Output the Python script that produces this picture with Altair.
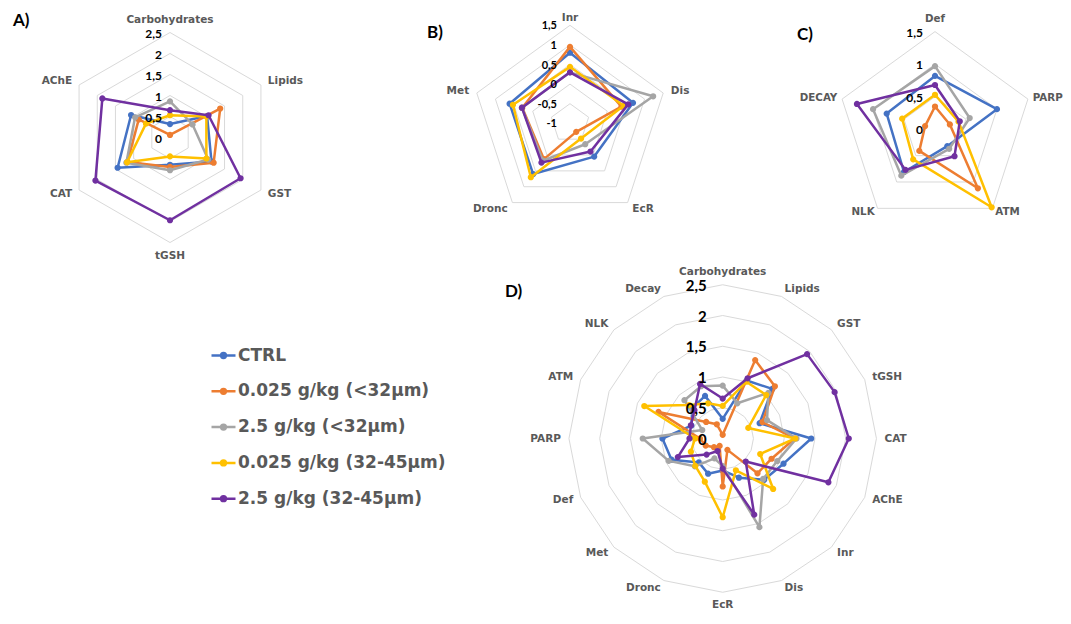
import altair as alt
import numpy as np
import pandas as pd

# ---------------- series ----------------
SERIES = ["CTRL", "0.025 g/kg (<32µm)", "2.5 g/kg (<32µm)",
          "0.025 g/kg (32-45µm)", "2.5 g/kg (32-45µm)"]
COLORS = ["#4472C4", "#ED7D31", "#A5A5A5", "#FFC000", "#7030A0"]

# ---------------- panel A ----------------
A_CATS = ["Carbohydrates", "Lipids", "GST", "tGSH", "CAT", "AChE"]
A_CTRL = [0.32, 1.02, 1.14, 0.65, 1.44, 1.07]
A_LOW_S = [0.06, 1.38, 1.20, 0.70, 1.17, 0.86]
A_HIGH_S = [0.86, 0.62, 1.05, 0.78, 1.20, 0.96]
A_LOW_L = [0.53, 1.00, 1.00, 0.45, 1.18, 0.66]
A_HIGH_L = [0.65, 1.06, 1.94, 1.97, 2.05, 1.86]
A_TICKS = [0, 0.5, 1, 1.5, 2, 2.5]
A_TICK_LABELS = ["0", "0,5", "1", "1,5", "2", "2,5"]
A_RINGS = [0.5, 1, 1.5, 2, 2.5]

# ---------------- panel B ----------------
B_CATS = ["Inr", "Dis", "EcR", "Dronc", "Met"]
B_CTRL = [0.80, 0.69, 0.05, 0.60, 0.62]
B_LOW_S = [0.95, 0.38, -0.73, 0.13, 0.28]
B_HIGH_S = [0.30, 1.23, -0.34, 0.18, 0.29]
B_LOW_L = [0.44, 0.44, -0.52, 0.70, 0.53]
B_HIGH_L = [0.30, 0.56, -0.11, 0.24, 0.29]
B_TICKS = [-1, -0.5, 0, 0.5, 1, 1.5]
B_TICK_LABELS = ["-1", "-0,5", "0", "0,5", "1", "1,5"]
B_RINGS = [-0.5, 0, 0.5, 1, 1.5]

# ---------------- panel C ----------------
C_CATS = ["Def", "PARP", "ATM", "NLK", "DECAY"]
C_CTRL = [0.82, 1.00, 0.32, 0.81, 0.78]
C_LOW_S = [0.35, 0.24, 1.12, 0.41, 0.16]
C_HIGH_S = [0.97, 0.56, 0.37, 0.88, 1.00]
C_LOW_L = [0.53, 0.38, 1.48, 0.57, 0.53]
C_HIGH_L = [0.68, 0.40, 0.51, 0.77, 1.26]
C_TICKS = [0, 0.5, 1, 1.5]
C_TICK_LABELS = ["0", "0,5", "1", "1,5"]
C_RINGS = [0.5, 1, 1.5]

# ---------------- panel D ----------------
D_CATS = ["Carbohydrates", "Lipids", "GST", "tGSH", "CAT", "AChE", "Inr", "Dis",
          "EcR", "Dronc", "Met", "Def", "PARP", "ATM", "NLK", "Decay"]
D_CTRL = [0.32, 1.02, 1.14, 0.65, 1.44, 1.07, 0.95, 0.69, 0.52, 0.62, 0.55, 0.90, 0.98, 0.55, 0.70, 0.75]
D_LOW_S = [0.06, 1.38, 1.20, 0.70, 1.17, 0.86, 0.80, 0.20, 0.78, 0.13, 0.20, 0.30, 0.37, 1.13, 0.38, 0.25]
D_HIGH_S = [0.86, 0.62, 1.05, 0.78, 1.20, 0.96, 0.93, 1.56, 0.45, 0.35, 0.64, 0.95, 1.30, 0.36, 0.88, 0.92]
D_LOW_L = [0.53, 1.00, 1.00, 0.45, 1.18, 0.66, 1.16, 0.56, 1.28, 0.76, 0.63, 0.56, 0.45, 1.38, 0.77, 0.62]
D_HIGH_L = [0.65, 1.06, 1.94, 1.97, 2.05, 1.86, 0.53, 1.34, 0.49, 0.22, 0.37, 0.79, 0.54, 0.56, 0.65, 0.96]
D_TICKS = [0, 0.5, 1, 1.5, 2, 2.5]
D_TICK_LABELS = ["0", "0,5", "1", "1,5", "2", "2,5"]
D_RINGS = [0.5, 1, 1.5, 2, 2.5]

PANEL_LETTERS = ["A)", "B)", "C)", "D)"]

# ---------------- layout (page pixels) ----------------
LAYOUT = {
    "A": dict(cx=170, cy=137.5, R=105, lo=0, hi=2.5, tick_fs=12, tick_dx=-8,
              gap=8, top_gap=8, cat_fs=10.5, lx=13, ly=21),
    "B": dict(cx=570, cy=123.3, R=98, lo=-1, hi=1.5, tick_fs=11, tick_dx=-13,
              gap=8, top_gap=2, cat_fs=10.5, lx=427, ly=33),
    "C": dict(cx=935, cy=129.3, R=97.7, lo=0, hi=1.5, tick_fs=12, tick_dx=-12,
              gap=5, top_gap=8, cat_fs=10.3, lx=797, ly=35),
    "D": dict(cx=722.7, cy=438.5, R=153.75, lo=0, hi=2.5, tick_fs=15, tick_dx=-16,
              gap=8, top_gap=8, cat_fs=10.5, lx=505, ly=292),
}

PANELS = {
    "A": (A_CATS, [A_CTRL, A_LOW_S, A_HIGH_S, A_LOW_L, A_HIGH_L], A_TICKS, A_TICK_LABELS, A_RINGS),
    "B": (B_CATS, [B_CTRL, B_LOW_S, B_HIGH_S, B_LOW_L, B_HIGH_L], B_TICKS, B_TICK_LABELS, B_RINGS),
    "C": (C_CATS, [C_CTRL, C_LOW_S, C_HIGH_S, C_LOW_L, C_HIGH_L], C_TICKS, C_TICK_LABELS, C_RINGS),
    "D": (D_CATS, [D_CTRL, D_LOW_S, D_HIGH_S, D_LOW_L, D_HIGH_L], D_TICKS, D_TICK_LABELS, D_RINGS),
}


def to_xy(p, v, k, n):
    L = LAYOUT[p]
    th = np.deg2rad(90 - 360.0 * k / n)
    r = (v - L["lo"]) / (L["hi"] - L["lo"]) * L["R"]
    return L["cx"] + r * np.cos(th), L["cy"] - r * np.sin(th)


series_rows, ring_rows, cat_rows, tick_rows, letter_rows = [], [], [], [], []
for pi, (p, (cats, vals, ticks, tick_labels, rings)) in enumerate(PANELS.items()):
    n = len(cats)
    L = LAYOUT[p]
    for s, arr in zip(SERIES, vals):
        for k in range(n + 1):
            x, y = to_xy(p, arr[k % n], k, n)
            series_rows.append(dict(panel=p, series=s, ord=k, X=x, Y=y, pt=k < n))
    for rv in rings:
        for k in range(n + 1):
            x, y = to_xy(p, rv, k, n)
            ring_rows.append(dict(panel=p, ring=f"{p}{rv}", ord=k, X=x, Y=y))
    for k, c in enumerate(cats):
        th = np.deg2rad(90 - 360.0 * k / n)
        if np.cos(th) > 0.2:
            anchor = "left"
        elif np.cos(th) < -0.2:
            anchor = "right"
        elif np.sin(th) > 0:
            anchor = "top"
        else:
            anchor = "bottom"
        rr = L["R"] + (L["top_gap"] if anchor == "top" else L["gap"])
        x, y = L["cx"] + rr * np.cos(th), L["cy"] - rr * np.sin(th)
        cat_rows.append(dict(panel=p, label=c, X=x, Y=y, anchor=anchor, fs=L["cat_fs"]))
    for tv, tl in zip(ticks, tick_labels):
        _, y = to_xy(p, tv, 0, n)
        tick_rows.append(dict(panel=p, label=tl, X=L["cx"] + L["tick_dx"], Y=y + 1, fs=L["tick_fs"]))
    letter_rows.append(dict(label=PANEL_LETTERS[pi], X=L["lx"], Y=L["ly"]))

series_df = pd.DataFrame(series_rows)
ring_df = pd.DataFrame(ring_rows)
cat_df = pd.DataFrame(cat_rows)
tick_df = pd.DataFrame(tick_rows)
letter_df = pd.DataFrame(letter_rows)

XS = alt.Scale(domain=[8, 1063], nice=False, zero=False)
YS = alt.Scale(domain=[8, 616], reverse=True, nice=False, zero=False)
X = alt.X("X:Q", scale=XS, axis=None)
Y = alt.Y("Y:Q", scale=YS, axis=None)

rings = alt.Chart(ring_df).mark_line(color="#D9D9D9", strokeWidth=1).encode(
    x=X, y=Y, detail="ring:N", order="ord:Q")

SYMBOL = ("M-1,0L1,0M-0.2,0A0.2,0.2,0,1,0,0.2,0"
          "A0.2,0.2,0,1,0,-0.2,0Z")
LEG = alt.Legend(title=None, orient="none", legendX=202, legendY=334,
                 symbolType=SYMBOL, symbolSize=576, symbolStrokeWidth=2.5,
                 labelFont="DejaVu Sans", labelFontSize=17, labelFontWeight="bold",
                 labelColor="#595959", labelOffset=1, rowPadding=13.8,
                 padding=0, labelLimit=400, symbolOpacity=1)
CSCALE = alt.Scale(domain=SERIES, range=COLORS)
COL = alt.Color("series:N", scale=CSCALE, legend=LEG)

layers = [rings]
for s in SERIES:
    sub = series_df[series_df.series == s]
    line = alt.Chart(sub).mark_line(strokeWidth=2.5, strokeJoin="round").encode(
        x=X, y=Y, color=COL, detail="panel:N", order="ord:Q")
    pts = alt.Chart(sub[sub.pt]).mark_point(filled=False, size=8, strokeWidth=3.4, opacity=1).encode(
        x=X, y=Y, color=COL)
    layers += [line, pts]

ALIGN = {"left": ("left", "middle"), "right": ("right", "middle"),
         "top": ("center", "bottom"), "bottom": ("center", "top")}
for a, (al, bl) in ALIGN.items():
    layers.append(
        alt.Chart(cat_df[cat_df.anchor == a]).mark_text(
            align=al, baseline=bl, font="DejaVu Sans", fontWeight="bold",
            color="#595959").encode(x=X, y=Y, text="label:N",
                                    size=alt.Size("fs:Q", scale=None, legend=None)))

layers.append(
    alt.Chart(tick_df).mark_text(align="right", baseline="middle", font="Lato",
                                 fontWeight="bold", color="#000000").encode(
        x=X, y=Y, text="label:N", size=alt.Size("fs:Q", scale=None, legend=None)))

layers.append(
    alt.Chart(letter_df).mark_text(align="left", baseline="middle", font="Lato",
                                   fontSize=17, fontWeight="bold", color="#000000").encode(
        x=X, y=Y, text="label:N"))

chart = alt.layer(*layers).properties(
    width=1055, height=608, padding=0, background="white",
    autosize=alt.AutoSizeParams(type="none")
).configure_view(stroke=None)

chart.save("out.html", embed_options={"renderer": "svg", "actions": False})
